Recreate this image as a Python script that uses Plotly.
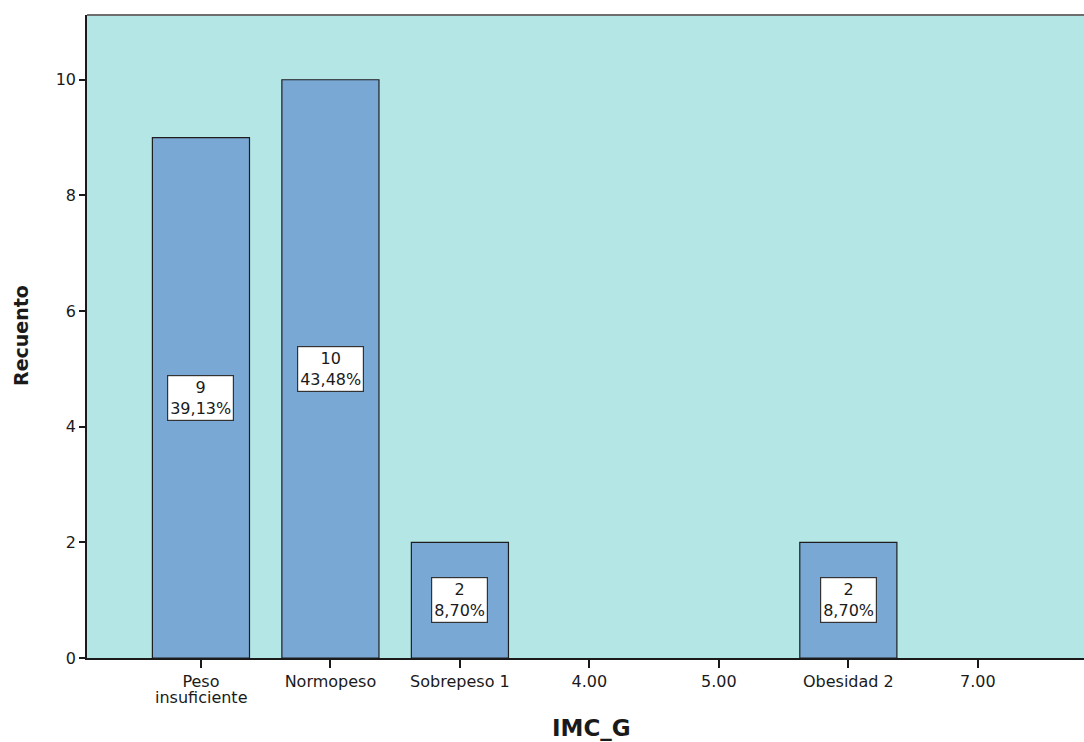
import plotly.graph_objects as go

categories = ["Peso insuficiente", "Normopeso", "Sobrepeso 1", "4.00", "5.00", "Obesidad 2", "7.00"]
tick_labels = ["Peso", "Normopeso", "Sobrepeso 1", "4.00", "5.00", "Obesidad 2", "7.00"]
tick_second_line = ["insuficiente", "", "", "", "", "", ""]
counts = [9, 10, 2, 0, 0, 2, 0]
percents = ["39,13%", "43,48%", "8,70%", "", "", "8,70%", ""]

FONT = "DejaVu Sans"
xpos = list(range(len(categories)))
bar_y = [c if c > 0 else None for c in counts]

fig = go.Figure()
fig.add_trace(go.Bar(
    x=xpos, y=bar_y, width=0.75,
    marker=dict(color="#7aa8d5", line=dict(color="#1e1e1e", width=1.2)),
    hoverinfo="skip", showlegend=False,
))

for xi, c, p in zip(xpos, counts, percents):
    if c > 0:
        fig.add_annotation(
            x=xi, y=c / 2, xref="x", yref="y",
            text=f"{c}<br>{p}", showarrow=False,
            font=dict(family=FONT, size=16, color="#1a1a1a"),
            bgcolor="white", bordercolor="#333333", borderwidth=1.2, borderpad=2,
        )

# second line of multi-line tick labels (tighter spacing than <br>)
for xi, t in zip(xpos, tick_second_line):
    if t:
        fig.add_annotation(
            x=xi, xref="x", y=-(697 - 658) / 643, yref="paper", yanchor="middle",
            text=t, showarrow=False, font=dict(family=FONT, size=16, color="#1a1a1a"),
        )

fig.add_shape(type="line", xref="paper", yref="paper", x0=0, x1=1, y0=1, y1=1,
              line=dict(color="#6e6e6e", width=2))

fig.add_annotation(xref="paper", yref="paper", x=(591 - 87) / 997, y=-(728 - 658) / 643,
                   yanchor="middle", text="<b>IMC_G</b>", showarrow=False,
                   font=dict(family=FONT, size=23, color="#1a1a1a"))
fig.add_annotation(xref="paper", yref="paper", x=(21 - 87) / 997, y=(658 - 336) / 643,
                   xanchor="center", yanchor="middle",
                   text="<b>Recuento</b>", showarrow=False, textangle=-90,
                   font=dict(family=FONT, size=19, color="#1a1a1a"))

fig.update_layout(
    width=1084, height=742,
    margin=dict(l=87, r=0, t=15, b=84),
    paper_bgcolor="white", plot_bgcolor="#b4e6e6",
    font=dict(family=FONT, size=16, color="#1a1a1a"),
    bargap=0.25,
    xaxis=dict(
        range=[-0.88, 6.82], tickmode="array", tickvals=xpos, ticktext=tick_labels,
        showgrid=False, zeroline=False, showline=True, linecolor="#1a1a1a", linewidth=1.5,
        ticks="outside", ticklen=8, tickcolor="#1a1a1a", tickwidth=1.5,
        automargin=False,
    ),
    yaxis=dict(
        range=[0, 11.12], tickvals=[0, 2, 4, 6, 8, 10],
        showgrid=False, zeroline=False, showline=True, linecolor="#1a1a1a", linewidth=1.5,
        ticks="outside", ticklen=6, tickcolor="#1a1a1a", tickwidth=1.5,
        automargin=False,
    ),
)

fig.write_html("out.html", config={"displayModeBar": False},
               post_script="document.body.style.margin='0';")
